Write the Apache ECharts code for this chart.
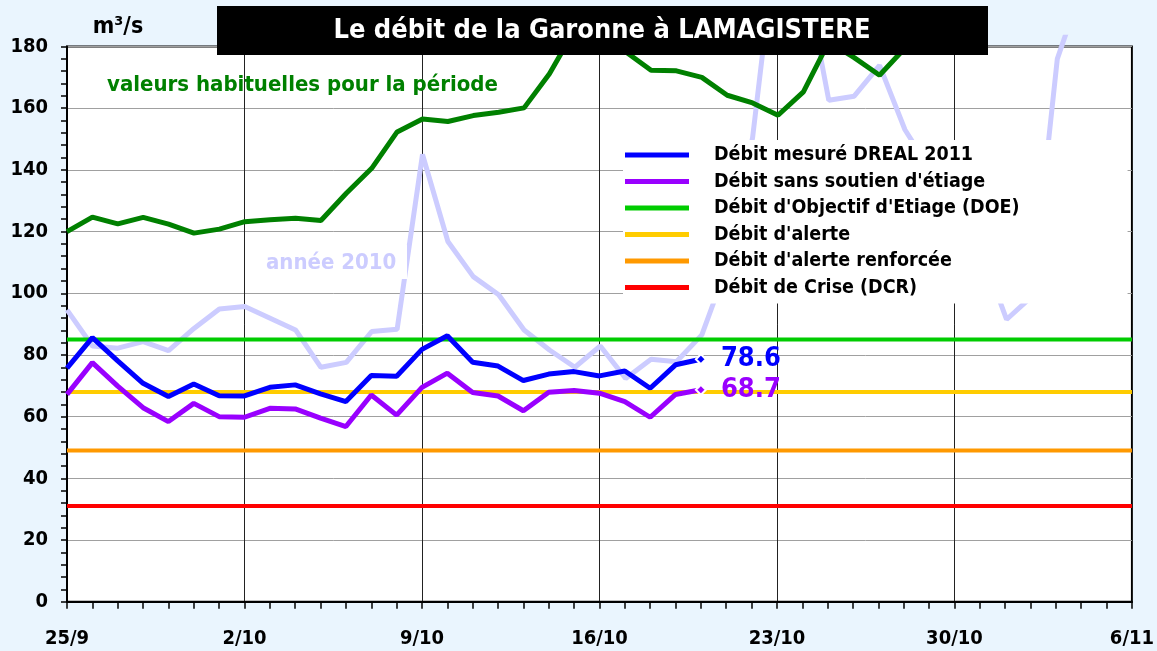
<!DOCTYPE html>
<html>
<head>
<meta charset="utf-8">
<script src="https://cdn.jsdelivr.net/npm/echarts@6/dist/echarts.min.js"></script>
<style>
  html, body { margin: 0; padding: 0; background: #EAF5FE; }
  #main { width: 1157px; height: 651px; }
</style>
</head>
<body>
<div id="main"></div>
<script>
  // jours du 25/9 au 6/11
  var dates = ['25/9', '26/9', '27/9', '28/9', '29/9', '30/9',
      '1/10', '2/10', '3/10', '4/10', '5/10', '6/10', '7/10', '8/10', '9/10', '10/10',
      '11/10', '12/10', '13/10', '14/10', '15/10', '16/10', '17/10', '18/10', '19/10', '20/10',
      '21/10', '22/10', '23/10', '24/10', '25/10', '26/10', '27/10', '28/10', '29/10', '30/10', '31/10',
      '1/11', '2/11', '3/11', '4/11', '5/11', '6/11'];

  // débits (m3/s)
  var debitMesure = [75.7, 85.6, 78.1, 70.8, 66.5, 70.6, 66.8, 66.7, 69.5, 70.3, 67.4, 64.9, 73.3,
      73.1, 81.8, 86.2, 77.6, 76.4, 71.7, 73.8, 74.6, 73.2, 74.8, 69.2, 76.8, 78.6];
  var debitSansSoutien = [67.2, 77.5, 69.9, 62.9, 58.4, 64.3, 60.0, 59.8, 62.7, 62.5, 59.5, 56.8, 67.0,
      60.5, 69.5, 74.1, 67.8, 66.7, 61.9, 67.9, 68.5, 67.6, 64.9, 59.8, 67.2, 68.7];
  var habituel = [120.0, 124.7, 122.5, 124.6, 122.4, 119.5, 120.8, 123.2, 123.8, 124.3, 123.6, 132.4,
      140.5, 152.3, 156.5, 155.7, 157.6, 158.7, 160.1, 171.2, 185.5, 186, 178.3, 172.3, 172.1, 170.0,
      164.2, 161.7, 157.7, 165.3, 181.5, 176.4, 170.7, 179.5];
  var annee2010 = [94.6, 82.9, 82.2, 84.3, 81.4, 88.6, 94.9, 95.7, 91.9, 88.1, 76.0, 77.6, 87.6, 88.3,
      145.0, 116.8, 105.4, 99.5, 88.1, 81.6, 76.0, 82.9, 72.4, 78.6, 77.8, 86.5, 109.0, 150.5, 220,
      206, 162.6, 163.9, 173.9, 153.0, 140, 125, 114, 91.5, 99, 176, 200];

  // seuils
  var seuilDOE = 85;
  var seuilAlerte = 68;
  var seuilRenforce = 49;
  var seuilCrise = 31;

  var FONT = '"DejaVu Sans Condensed", "DejaVu Sans", sans-serif';

  var chart = echarts.init(document.getElementById('main'));

  function seuil(nom, valeur, couleur) {
      return {
          name: nom,
          type: 'line',
          xAxisIndex: 0,
          yAxisIndex: 0,
          data: dates.map(function () { return valeur; }),
          symbol: 'none',
          lineStyle: { color: couleur, width: 4 },
          itemStyle: { color: couleur },
          silent: true
      };
  }

  function mesure(nom, valeurs, couleur) {
      var data = valeurs.map(function (v, i) {
          if (i < valeurs.length - 1) return v;
          return {
              value: v,
              symbol: 'diamond',
              symbolSize: 10,
              itemStyle: { color: couleur, borderColor: '#fff', borderWidth: 2 },
              label: {
                  show: true, position: 'right', distance: 14, formatter: '{c}',
                  fontSize: 27, fontWeight: 'bold', color: couleur, fontFamily: FONT
              }
          };
      });
      return {
          name: nom,
          type: 'line',
          xAxisIndex: 0,
          yAxisIndex: 0,
          data: data,
          symbol: 'none',
          showSymbol: true,
          lineStyle: { color: couleur, width: 5 },
          itemStyle: { color: couleur },
          silent: true
      };
  }

  var option = {
      backgroundColor: '#EAF5FE',
      animation: false,
      textStyle: { fontFamily: FONT },
      grid: [
          { left: 67, right: 23.5, top: 46.5, bottom: 49.3, show: true,
            backgroundColor: '#fff', borderColor: '#000', borderWidth: 2 },
          { left: 67, right: 23.5, top: 37.25, bottom: 49.3 }
      ],
      legend: {
          orient: 'vertical',
          left: 623,
          top: 140,
          backgroundColor: '#fff',
          padding: [5, 108, 6, 2],
          itemWidth: 64,
          itemHeight: 5,
          itemGap: 6.5,
          icon: 'rect',
          selectedMode: false,
          data: ['Débit mesuré DREAL 2011', 'Débit sans soutien d\'étiage',
                 'Débit d\'Objectif d\'Etiage (DOE)', 'Débit d\'alerte',
                 'Débit d\'alerte renforcée', 'Débit de Crise (DCR)'],
          textStyle: { fontSize: 19.5, fontWeight: 'bold', color: '#000', lineHeight: 20,
                       padding: [0, 0, 0, 20], fontFamily: FONT }
      },
      xAxis: [{
          type: 'category',
          gridIndex: 0,
          data: dates,
          boundaryGap: false,
          axisLine: { lineStyle: { color: '#000', width: 2 } },
          axisTick: { interval: 0, length: 7, lineStyle: { color: '#000', width: 1.5 } },
          axisLabel: { interval: 6, margin: 27, fontSize: 20, fontWeight: 'bold', color: '#000' },
          splitLine: { show: true, interval: 6, lineStyle: { color: '#222', width: 1 } }
      }, {
          type: 'category',
          gridIndex: 1,
          data: dates,
          boundaryGap: false,
          show: false
      }],
      yAxis: [{
          type: 'value',
          gridIndex: 0,
          min: 0,
          max: 180,
          interval: 20,
          axisLine: { show: true, lineStyle: { color: '#000', width: 2 } },
          axisTick: { show: true, length: 6, lineStyle: { color: '#000', width: 1.5 } },
          minorTick: { show: true, splitNumber: 5, length: 6, lineStyle: { color: '#000', width: 1.5 } },
          axisLabel: { margin: 19, fontSize: 20, fontWeight: 'bold', color: '#000' },
          splitLine: { lineStyle: { color: '#a0a0a0', width: 1 } }
      }, {
          type: 'value',
          gridIndex: 1,
          min: 0,
          max: 183,
          show: false
      }],
      series: [
          {
              name: 'année 2010', type: 'line', xAxisIndex: 1, yAxisIndex: 1,
              data: annee2010, symbol: 'none', silent: true,
              lineStyle: { color: '#CCCCFF', width: 5 }, itemStyle: { color: '#CCCCFF' }
          },
          {
              name: 'valeurs habituelles', type: 'line', xAxisIndex: 1, yAxisIndex: 1,
              data: habituel, symbol: 'none', silent: true,
              lineStyle: { color: '#008000', width: 5 }, itemStyle: { color: '#008000' }
          },
          seuil('Débit de Crise (DCR)', seuilCrise, '#FF0000'),
          seuil('Débit d\'alerte renforcée', seuilRenforce, '#FF9900'),
          seuil('Débit d\'alerte', seuilAlerte, '#FFCC00'),
          seuil('Débit d\'Objectif d\'Etiage (DOE)', seuilDOE, '#00CC00'),
          mesure('Débit sans soutien d\'étiage', debitSansSoutien, '#9900FF'),
          mesure('Débit mesuré DREAL 2011', debitMesure, '#0000FF')
      ],
      graphic: [
          { type: 'rect', z: 100, shape: { x: 217, y: 6, width: 771, height: 49 }, style: { fill: '#000' } },
          { type: 'text', z: 101, x: 602, y: 31,
            style: { text: 'Le débit de la Garonne à LAMAGISTERE', fill: '#fff', fontSize: 27,
                     fontWeight: 'bold', fontFamily: FONT, textAlign: 'center', textVerticalAlign: 'middle' } },
          { type: 'text', z: 101, x: 118, y: 27,
            style: { text: 'm³/s', fill: '#000', fontSize: 23, fontWeight: 'bold', fontFamily: FONT,
                     textAlign: 'center', textVerticalAlign: 'middle' } },
          { type: 'text', z: 101, x: 107, y: 85,
            style: { text: 'valeurs habituelles pour la période', fill: '#008000', fontSize: 22,
                     fontWeight: 'bold', fontFamily: FONT, textAlign: 'left', textVerticalAlign: 'middle' } },
          { type: 'rect', z: 100, shape: { x: 262, y: 245, width: 145, height: 34 }, style: { fill: '#fff' } },
          { type: 'text', z: 101, x: 266, y: 263,
            style: { text: 'année 2010', fill: '#CCCCFF', fontSize: 22, fontWeight: 'bold', fontFamily: FONT,
                     textAlign: 'left', textVerticalAlign: 'middle' } }
      ]
  };

  chart.setOption(option);
</script>
</body>
</html>
